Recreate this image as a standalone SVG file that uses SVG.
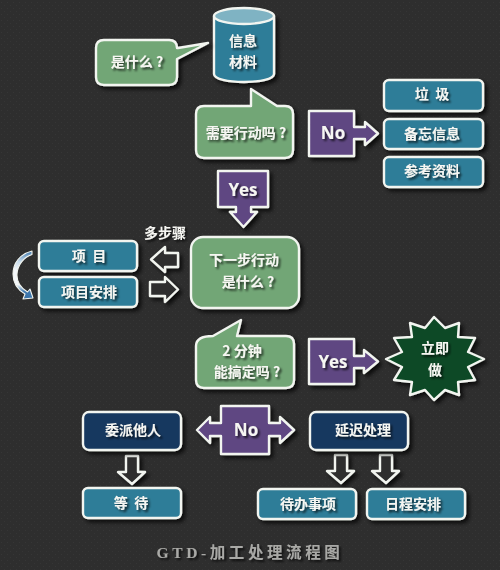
<svg xmlns="http://www.w3.org/2000/svg" width="500" height="570" viewBox="0 0 500 570">
<style>
.s{stroke:#f2f5f0;stroke-width:2.4;stroke-linejoin:round}
.g{fill:#72a676}.t{fill:#2f7d98}.p{fill:#5e4682}.n{fill:#17375f}.h{fill:#2e2e2e}
.sh{filter:url(#ds)}
text{font-family:"Noto Sans CJK SC","Noto Sans",sans-serif;font-weight:700;font-size:14px;fill:#f6f6f2;text-anchor:middle;dominant-baseline:central;filter:url(#ts);white-space:pre}
.en{font-family:"Open Sans","Noto Sans",sans-serif;font-size:17px}
.cap{font-family:"Liberation Serif","Noto Sans CJK SC",serif;font-size:15.500px;fill:#a9a9a6;letter-spacing:3.600px}
</style>
<defs>
<filter id="ds" x="-20%" y="-20%" width="150%" height="150%"><feDropShadow dx="3" dy="3" stdDeviation="2" flood-color="#000" flood-opacity=".75"/></filter>
<filter id="ts" x="-20%" y="-30%" width="150%" height="170%"><feDropShadow dx="2" dy="2" stdDeviation="1.3" flood-color="#000" flood-opacity=".7"/></filter>
<pattern id="tex" width="6" height="6" patternUnits="userSpaceOnUse"><rect width="6" height="6" fill="#2e2e2e"/><rect x="1" y="2" width="1" height="1" fill="#363636"/><rect x="4" y="5" width="1" height="1" fill="#353535"/></pattern>
<linearGradient id="cv" x1="0" y1="0" x2="0" y2="1"><stop offset="0" stop-color="#3f78ad"/><stop offset=".22" stop-color="#c9dcec"/><stop offset=".4" stop-color="#f4f7fa"/><stop offset=".7" stop-color="#f4f7fa"/><stop offset=".85" stop-color="#3f78ad"/><stop offset="1" stop-color="#3a74aa"/></linearGradient>
</defs>
<rect id="background" width="500" height="570" fill="url(#tex)"/>

<g id="connectors">
<path class="s h sh" d="M178 253H165V247L151 259.500L165 272V267H178Z"/>
<path class="s h sh" d="M150 282H165V277L178 289.500L165 302V296H150Z"/>
<path class="s h sh" d="M126 456H138V472H145L132 484L118 472H126Z"/>
<path class="s h sh" d="M335 455H347V471H354L341 483L327 471H335Z"/>
<path class="s h sh" d="M380 455H392V471H399L386 483L372 471H380Z"/>
<path d="M32 251C20 254 13 263 13 274C13 283 18 290 25 294L23 299L33 298L30 289L27.500 292C21 288 16.500 282 17 274C17.500 265 24 257 32 254.500Z" fill="url(#cv)" stroke="#f2f5f0" stroke-width="1.100" stroke-linejoin="round"/>
</g>

<g id="node-info">
<path class="s t sh" d="M214 16V74C214 79 228 82 244 82C260 82 274 79 274 74V16Z"/>
<ellipse class="s" cx="244" cy="16" rx="30" ry="8" fill="#7fb3c3"/>
<text x="243" y="40">信息</text><text x="243" y="61">材料</text>
</g>
<g id="node-what">
<path class="s g sh" d="M104 40H169Q177 40 177 48H178L208 43L177 59V77Q177 85 169 85H104Q96 85 96 77V48Q96 40 104 40Z"/>
<text x="137" y="61">是什么 ?</text>
</g>
<g id="node-action">
<path class="s g sh" d="M204 106H251V89L277 106H285Q293 106 293 114V150Q293 158 285 158H204Q196 158 196 150V114Q196 106 204 106Z"/>
<text x="246" y="132">需要行动吗 ?</text>
</g>
<g id="node-no1">
<path class="s p sh" d="M309 111H354V127H365V122L378 133.500L365 145V139H354V156H309Z"/>
<text class="en" x="333" y="132">No</text>
</g>
<g id="node-trash"><rect class="s t sh" x="384" y="80" width="99" height="31" rx="5"/><text x="432" y="93">垃  圾</text></g>
<g id="node-memo"><rect class="s t sh" x="384" y="119" width="99" height="30" rx="5"/><text x="432" y="133">备忘信息</text></g>
<g id="node-ref"><rect class="s t sh" x="384" y="157" width="99" height="30" rx="5"/><text x="432" y="170">参考资料</text></g>
<g id="node-yes1">
<path class="s p sh" d="M218 171H268V207H251V212H257L243.500 227L230 212H236V207H218Z"/>
<text class="en" x="243" y="189">Yes</text>
</g>
<g id="label-multi"><text x="165" y="232">多步骤</text></g>
<g id="node-next">
<rect class="s g sh" x="191" y="237" width="108" height="71" rx="12"/>
<text x="244" y="259">下一步行动</text><text x="248" y="281">是什么 ?</text>
</g>
<g id="node-project"><rect class="s t sh" x="39" y="241" width="98" height="30" rx="5"/><text x="89" y="255">项  目</text></g>
<g id="node-plan"><rect class="s t sh" x="39" y="277" width="98" height="30" rx="5"/><text x="89" y="291">项目安排</text></g>
<g id="node-2min">
<path class="s g sh" d="M213 336L241 320L237 336H286Q294 336 294 344V380Q294 388 286 388H204Q196 388 196 380V346Q196 336 213 336Z"/>
<text x="242" y="350">2 分钟</text><text x="247" y="371">能搞定吗 ?</text>
</g>
<g id="node-yes2">
<path class="s p sh" d="M309 339H354V356H364V350L378 361.500L364 373V368H354V384H309Z"/>
<text class="en" x="333" y="361">Yes</text>
</g>
<g id="node-doit">
<polygon class="s sh" fill="#0e4a25" points="434,317 445,328 459,323 458,337 475,338 468,352 484,359 468,367 475,380 458,382 459,395 445,390 434,400 425,390 410,395 412,382 394,380 402,367 386,359 402,352 394,338 412,337 410,323 425,328"/>
<text x="435" y="347">立即</text><text x="435" y="369">做</text>
</g>
<g id="node-no2">
<path class="s p sh" d="M221 406H269V423H280V417L294 430L280 443V436H269V454H221V436H210V443L197 430L210 417V423H221Z"/>
<text class="en" x="246" y="429">No</text>
</g>
<g id="node-delegate"><rect class="s n sh" x="83" y="412" width="98" height="38" rx="6"/><text x="133" y="429">委派他人</text></g>
<g id="node-defer"><rect class="s n sh" x="310" y="412" width="98" height="38" rx="6"/><text x="363" y="429">延迟处理</text></g>
<g id="node-wait"><rect class="s t sh" x="83" y="488" width="98" height="30" rx="5"/><text x="131" y="502">等  待</text></g>
<g id="node-todo"><rect class="s t sh" x="258" y="489" width="98" height="30" rx="5"/><text x="308" y="503">待办事项</text></g>
<g id="node-calendar"><rect class="s t sh" x="367" y="489" width="98" height="30" rx="5"/><text x="413" y="503">日程安排</text></g>
<g id="title"><text class="cap" x="250" y="552">GTD-加工处理流程图</text></g>
</svg>
